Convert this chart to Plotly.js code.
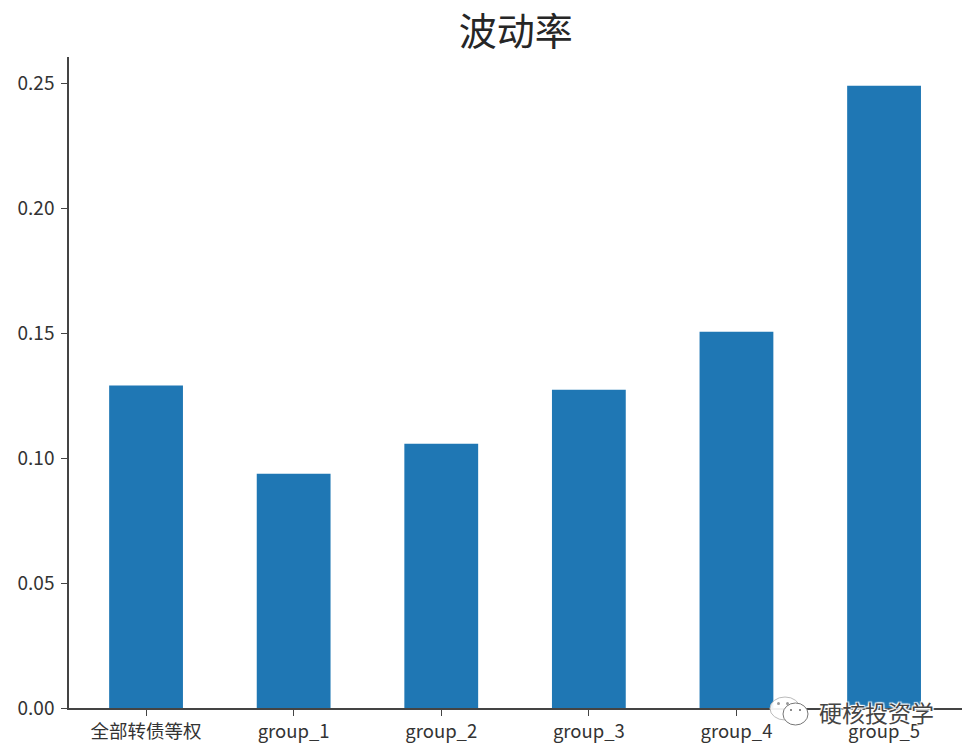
<!DOCTYPE html>
<html><head><meta charset="utf-8">
<script src="https://cdn.plot.ly/plotly-3.0.1.min.js"></script>
<style>html,body{margin:0;padding:0;background:#fff}</style></head>
<body><div id="chart" style="width:966px;height:755px"></div>
<script>
const categories = ["全部转债等权","group_1","group_2","group_3","group_4","group_5"];
const volatility = [0.129,0.0937,0.1057,0.1273,0.1505,0.2489];
const yTicks = [0,0.05,0.10,0.15,0.20,0.25];
const yTickLabels = ["0.00","0.05","0.10","0.15","0.20","0.25"];
const font = '"Noto Sans CJK SC","Noto Sans",sans-serif';
const L=69,B=708,W=893,H=651;
const px=x=>(x-L)/W, py=y=>(B-y)/H;
function oval(x0,y0,x1,y1,fill,line){return {type:"circle",layer:"above",xref:"paper",yref:"paper",x0:px(x0),x1:px(x1),y0:py(y1),y1:py(y0),fillcolor:fill,line:{color:line,width:line==="rgba(0,0,0,0)"?0:1}};}
const wmShapes=[
 oval(770,697,800,720,"rgba(255,255,255,0.92)","#bbb"),
 oval(783,703,808,725,"#fff","#777"),
 oval(777,702,780,705,"#999","rgba(0,0,0,0)"),
 oval(786,702,789,705,"#999","rgba(0,0,0,0)"),
 oval(790,709,792,711,"#666","rgba(0,0,0,0)"),
 oval(799,709,801,711,"#666","rgba(0,0,0,0)")
];
Plotly.newPlot("chart",[{type:"bar",x:categories,y:volatility,width:0.5,marker:{color:"#1f77b4"},hoverinfo:"x+y"}],{
 width:966,height:755,paper_bgcolor:"#fff",plot_bgcolor:"#fff",showlegend:false,
 margin:{l:69,r:4,t:57,b:47},
 title:{text:"波动率",font:{family:font,size:38,color:"#262626"},x:0.534,xanchor:"center",y:0.958,yanchor:"middle"},
 xaxis:{type:"category",range:[-0.522,5.528],showgrid:false,zeroline:false,showline:true,linecolor:"#444",linewidth:1.5,ticks:"outside",ticklen:6,tickcolor:"#444",tickfont:{family:font,size:18.5,color:"#333"}},
 yaxis:{range:[0,0.2604],tickvals:yTicks,ticktext:yTickLabels,showgrid:false,zeroline:false,showline:true,linecolor:"#444",linewidth:1.5,ticks:"outside",ticklen:6,ticklabelstandoff:3,tickcolor:"#444",tickfont:{family:font,size:19,color:"#333"}},
 shapes:wmShapes,
 annotations:[{text:"硬核投资学",xref:"paper",yref:"paper",x:px(876),y:py(712),xanchor:"center",yanchor:"middle",showarrow:false,font:{family:font,size:23,color:"#444",shadow:"1px 1px 1px #fff, -1px -1px 1px #fff, 1px -1px 1px #fff, -1px 1px 1px #fff"}}]
},{displayModeBar:false});
</script></body></html>
